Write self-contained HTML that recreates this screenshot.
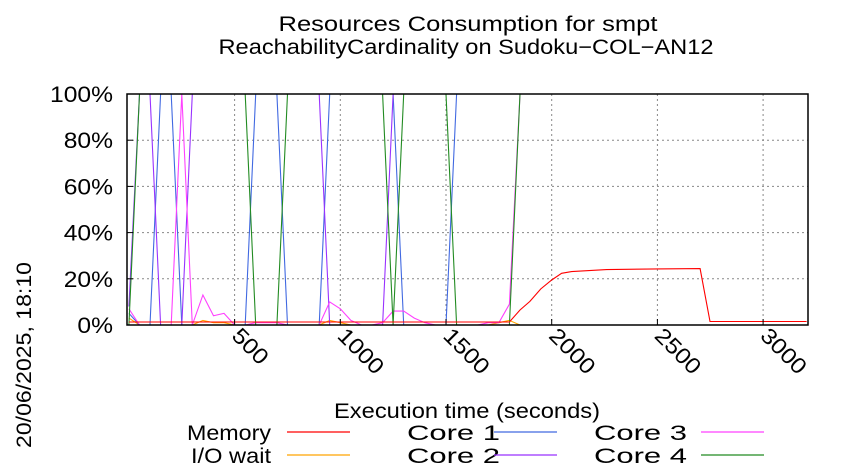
<!DOCTYPE html>
<html><head><meta charset="utf-8"><style>
html,body{margin:0;padding:0;background:#fff;}
svg{display:block;font-family:"Liberation Sans",sans-serif;}
</style></head><body>
<svg id="chart" width="850" height="475" viewBox="0 0 850 475">
<text x="468" y="31" font-size="21" text-anchor="middle" textLength="379" lengthAdjust="spacingAndGlyphs">Resources Consumption for smpt</text>
<text x="466" y="54" font-size="21" text-anchor="middle" textLength="495" lengthAdjust="spacingAndGlyphs">ReachabilityCardinality on Sudoku−COL−AN12</text>
<g id="grid"></g>
<g id="series"></g>
<rect x="127" y="94" width="681" height="231" fill="none" stroke="#000" stroke-width="1.5"/>
<g id="axes"></g>
<text x="467" y="418" font-size="21" text-anchor="middle" textLength="266" lengthAdjust="spacingAndGlyphs">Execution time (seconds)</text>
<text transform="translate(31,355) rotate(-90)" font-size="21" text-anchor="middle" textLength="186" lengthAdjust="spacingAndGlyphs">20/06/2025, 18:10</text>
<g id="legend"></g>
</svg>
<script>
const xTicks = [500, 1000, 1500, 2000, 2500, 3000];
const yTicks = [0, 20, 40, 60, 80, 100];
const coreTimes = [0,50,100,150,200,250,300,350,400,450,500,550,600,650,700,750,800,850,900,950,1000,1050,1100,1150,1200,1250,1300,1350,1400,1450,1500,1550,1600,1650,1700,1750,1800,1850];
const core1 = [5,0,0,100,100,0,0,0,0,0,0,0,100,100,100,0,0,0,0,100,100,100,100,100,100,100,0,0,0,0,0,100,100,100,100,100,100,100];
const core2 = [8,100,100,0,0,0,100,100,100,100,100,100,100,100,100,100,100,100,100,0,0,0,0,0,0,100,100,100,100,100,100,100,100,100,100,100,100,100];
const core3 = [7,0,0,0,0,100,0,13,4,5,0,0,1,1,1,0,0,0,0,10,7,2,0,0,1,6,6,3,1,0,0,0,0,0,1,1,9,100];
const core4 = [0,100,100,100,100,100,100,100,100,100,100,100,0,0,0,100,100,100,100,100,100,100,100,100,100,0,100,100,100,100,100,0,0,0,0,0,0,100];
const ioWait = [3,0,0,0,0,0,0,2,1,1,0,0,0,0,0,0,0,0,0,2,1,0,0,0,0,0,0,0,0,0,0,0,0,0,0,1,2,0];
const memTimes = [0,1800,1850,1897,1948,2000,2047,2094,2260,2500,2702,2749,3206];
const memory = [1.3,1.3,6.5,10.2,15.6,19.5,22.4,23.1,24,24.3,24.4,1.5,1.5];

const X0 = 128.9, XS = 0.2114, Y0 = 325, YS = 2.31;
function xs(t){ return X0 + t * XS; }
function ys(v){ return Y0 - v * YS; }
const NS = "http://www.w3.org/2000/svg";
function mk(tag, parent){ const e = document.createElementNS(NS, tag); parent.appendChild(e); return e; }

const grid = document.getElementById('grid');
const axes = document.getElementById('axes');
yTicks.forEach(v => {
  if (v > 0 && v < 100) {
    const l = mk('line', grid);
    
    
    l.setAttribute('x1', 127); l.setAttribute('x2', 808);
    l.setAttribute('y1', ys(v)); l.setAttribute('y2', ys(v));
    l.setAttribute('stroke', '#888'); l.setAttribute('stroke-dasharray', '2,3');
  }
  const tk = mk('line', axes);
  
  
  tk.setAttribute('x1', 127); tk.setAttribute('x2', 133);
  tk.setAttribute('y1', ys(v)); tk.setAttribute('y2', ys(v)); tk.setAttribute('stroke', '#000');
  const t = mk('text', axes);
  
  
  t.setAttribute('x', 113); t.setAttribute('y', ys(v) + 8);
  t.setAttribute('font-size', '22'); t.setAttribute('text-anchor', 'end');
  t.setAttribute('transform', 'translate(' + (113 * -0.12) + ',0) scale(1.12,1)');
  t.textContent = v + '%';
});
xTicks.forEach(v => {
  const l = mk('line', grid);
  
  
  l.setAttribute('x1', xs(v)); l.setAttribute('x2', xs(v));
  l.setAttribute('y1', 94); l.setAttribute('y2', 325);
  l.setAttribute('stroke', '#888'); l.setAttribute('stroke-dasharray', '2,3');
  const tk = mk('line', axes);
  
  
  tk.setAttribute('x1', xs(v)); tk.setAttribute('x2', xs(v));
  tk.setAttribute('y1', 325); tk.setAttribute('y2', 319); tk.setAttribute('stroke', '#000');
  const t = mk('text', axes);
  
  
  t.setAttribute('transform', 'translate(' + (xs(v) - 4) + ',337) rotate(45) scale(1.12,1)');
  t.setAttribute('font-size', '22');
  t.textContent = v;
});

const series = document.getElementById('series');
function drawLine(times, vals, color, name){
  const p = mk('polyline', series);
  
  
  p.setAttribute('points', times.map((t, i) => xs(t).toFixed(1) + ',' + ys(vals[i]).toFixed(1)).join(' '));
  p.setAttribute('fill', 'none'); p.setAttribute('stroke', color); p.setAttribute('stroke-width', '1.1');
}
drawLine(coreTimes, ioWait, '#ffa500', 'io-wait-line');
drawLine(coreTimes, core1, '#4169e1', 'core-1-line');
drawLine(coreTimes, core2, '#9932ff', 'core-2-line');
drawLine(coreTimes, core3, '#ff40ff', 'core-3-line');
drawLine(coreTimes, core4, '#228b22', 'core-4-line');
drawLine(memTimes, memory, '#ff0000', 'memory-line');

const legend = document.getElementById('legend');
const legendItems = [
  ['Memory', '#ff0000', 271, 287, 432, 84],
  ['I/O wait', '#ffa500', 271, 287, 455, 80],
  ['Core 1', '#4169e1', 500, 494, 432, 93],
  ['Core 2', '#9932ff', 500, 494, 455, 93],
  ['Core 3', '#ff40ff', 687, 701, 432, 93],
  ['Core 4', '#228b22', 687, 701, 455, 93]
];
legendItems.forEach(it => {
  const t = mk('text', legend);
  
  
  t.setAttribute('x', it[2] - it[5]); t.setAttribute('y', it[4] + 8);
  t.setAttribute('font-size', '21');
  t.setAttribute('textLength', it[5]); t.setAttribute('lengthAdjust', 'spacingAndGlyphs');
  t.textContent = it[0];
  const l = mk('line', legend);
  
  
  l.setAttribute('x1', it[3]); l.setAttribute('x2', it[3] + 63);
  l.setAttribute('y1', it[4]); l.setAttribute('y2', it[4]);
  l.setAttribute('stroke', it[1]); l.setAttribute('stroke-width', '1.2');
});
</script>
</body></html>
